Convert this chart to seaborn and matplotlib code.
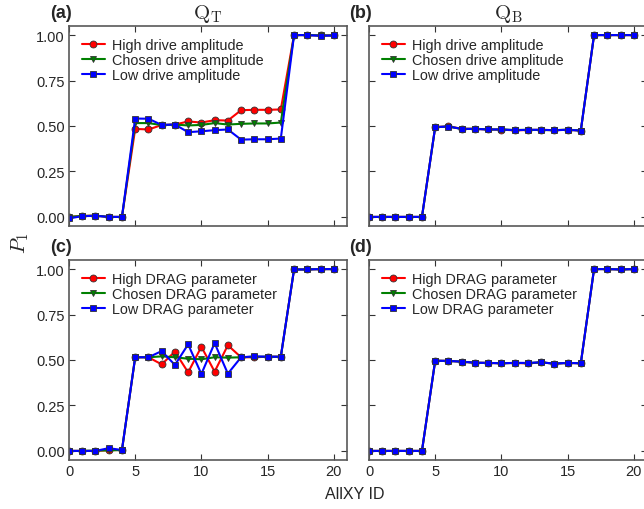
import numpy as np
import seaborn as sns
import matplotlib
matplotlib.use('Agg')
import matplotlib.pyplot as plt

# AllXY sequence index
allxy_id = list(range(21))

# (a) Q_T, drive amplitude sweep
qt_amp_high = [0.00, 0.005, 0.007, 0.00, 0.00, 0.484, 0.481, 0.505, 0.508, 0.525, 0.519,
               0.532, 0.530, 0.587, 0.589, 0.589, 0.591, 1.00, 1.00, 0.998, 0.998]
qt_amp_chosen = [0.00, 0.005, 0.007, 0.00, 0.00, 0.516, 0.516, 0.505, 0.508, 0.503, 0.506,
                 0.516, 0.508, 0.512, 0.514, 0.514, 0.519, 1.00, 1.00, 0.998, 0.998]
qt_amp_low = [-0.008, 0.004, 0.006, 0.00, 0.00, 0.541, 0.540, 0.506, 0.508, 0.466, 0.471,
              0.477, 0.481, 0.425, 0.427, 0.427, 0.431, 1.00, 1.00, 0.996, 0.998]

# (b) Q_B, drive amplitude sweep
qb_amp_high = [0.00, 0.00, 0.00, 0.00, 0.00, 0.494, 0.498, 0.485, 0.484, 0.481, 0.480,
               0.476, 0.478, 0.479, 0.477, 0.479, 0.475, 1.00, 1.00, 1.00, 1.00]
qb_amp_chosen = [0.00, 0.00, 0.00, 0.00, 0.00, 0.494, 0.497, 0.484, 0.485, 0.481, 0.481,
                 0.478, 0.479, 0.478, 0.477, 0.480, 0.475, 1.00, 1.00, 1.00, 1.00]
qb_amp_low = [0.00, 0.00, 0.00, 0.00, 0.00, 0.494, 0.497, 0.484, 0.484, 0.481, 0.481,
              0.477, 0.479, 0.479, 0.477, 0.479, 0.475, 1.00, 1.00, 1.00, 1.00]

# (c) Q_T, DRAG parameter sweep
qt_drag_high = [0.00, 0.00, 0.00, 0.004, 0.005, 0.515, 0.515, 0.476, 0.546, 0.432, 0.573,
                0.436, 0.581, 0.515, 0.515, 0.518, 0.518, 0.998, 0.998, 1.00, 1.00]
qt_drag_chosen = [0.00, 0.00, 0.002, 0.003, 0.005, 0.515, 0.515, 0.520, 0.515, 0.507, 0.504,
                  0.515, 0.513, 0.515, 0.518, 0.518, 0.518, 0.998, 0.998, 1.00, 1.00]
qt_drag_low = [0.00, 0.00, 0.00, 0.015, 0.005, 0.515, 0.515, 0.549, 0.473, 0.586, 0.423,
               0.593, 0.425, 0.515, 0.520, 0.518, 0.518, 0.998, 0.998, 1.00, 1.00]

# (d) Q_B, DRAG parameter sweep
qb_drag_high = [0.00, 0.00, 0.00, 0.00, 0.00, 0.496, 0.495, 0.491, 0.485, 0.484, 0.482,
                0.484, 0.481, 0.487, 0.480, 0.484, 0.482, 1.00, 1.00, 0.998, 1.00]
qb_drag_chosen = [0.00, 0.00, 0.00, 0.00, 0.00, 0.496, 0.495, 0.491, 0.485, 0.484, 0.482,
                  0.484, 0.483, 0.487, 0.480, 0.484, 0.482, 1.00, 1.00, 0.998, 1.00]
qb_drag_low = [0.00, 0.00, 0.00, 0.00, 0.00, 0.496, 0.495, 0.491, 0.485, 0.484, 0.482,
               0.484, 0.484, 0.487, 0.480, 0.484, 0.482, 1.00, 1.00, 0.998, 1.00]

amp_labels = ['High drive amplitude', 'Chosen drive amplitude', 'Low drive amplitude']
drag_labels = ['High DRAG parameter', 'Chosen DRAG parameter', 'Low DRAG parameter']
colors = ['#ff0000', '#008000', '#0000ff']
markers = ['o', 'v', 's']

sns.set_style('ticks', {'xtick.direction': 'in', 'ytick.direction': 'in',
                        'axes.edgecolor': '0.35'})
plt.rcParams['font.family'] = ['Liberation Sans', 'DejaVu Sans']
plt.rcParams['mathtext.fontset'] = 'cm'
plt.rcParams['xtick.top'] = True
plt.rcParams['ytick.right'] = True
plt.rcParams['xtick.labelsize'] = 10.5
plt.rcParams['ytick.labelsize'] = 10.5

fig = plt.figure(figsize=(6.44, 5.10), dpi=100)
W, H = 644, 510
axw, axh = 278, 200
boxes = {'a': (69, 27), 'b': (369, 27), 'c': (69, 261), 'd': (369, 261)}
axes = {}
for k, (l, t) in boxes.items():
    axes[k] = fig.add_axes([l / W, 1 - (t + axh) / H, axw / W, axh / H])

panels = [
    ('a', [qt_amp_high, qt_amp_chosen, qt_amp_low], amp_labels, r'$\mathrm{Q_T}$'),
    ('b', [qb_amp_high, qb_amp_chosen, qb_amp_low], amp_labels, r'$\mathrm{Q_B}$'),
    ('c', [qt_drag_high, qt_drag_chosen, qt_drag_low], drag_labels, None),
    ('d', [qb_drag_high, qb_drag_chosen, qb_drag_low], drag_labels, None),
]

for k, series, labels, title in panels:
    ax = axes[k]
    for vals, lab, c, m in zip(series, labels, colors, markers):
        sns.lineplot(x=allxy_id, y=vals, ax=ax, color=c, marker=m, label=lab,
                     linewidth=1.5, markersize=5, markeredgecolor='0.2',
                     markeredgewidth=0.6)
    ax.set_xlim(0, 21)
    ax.set_ylim(-0.05, 1.05)
    ax.set_xticks([0, 5, 10, 15, 20])
    ax.set_yticks([0, 0.25, 0.5, 0.75, 1.0])
    ax.yaxis.set_major_formatter(matplotlib.ticker.FormatStrFormatter('%.2f'))
    ax.tick_params(length=4, width=0.8, color='0.2', pad=3)
    for s in ax.spines.values():
        s.set_linewidth(1.2)
    if k in 'ab':
        ax.set_xticklabels([])
    if k in 'bd':
        ax.set_yticklabels([])
    ax.set_xlabel('')
    ax.set_ylabel('')
    ax.legend(loc='upper left', frameon=False, fontsize=10.4, handlelength=1.6,
              handletextpad=0.5, labelspacing=0.08, borderaxespad=0.3,
              bbox_to_anchor=(0.01, 0.99))
    if title:
        ax.set_title(title, fontsize=15, pad=6)
    ax.text(-0.03, 1.07, '(%s)' % k, transform=ax.transAxes, ha='center',
            va='center', fontsize=13, fontweight='bold')

fig.text(20 / W, 1 - 243 / H, r'$P_1$', rotation=90, ha='center', va='center',
         fontsize=15)
fig.text(355 / W, 1 - 495 / H, 'AllXY ID', ha='center', va='center', fontsize=11.5)

fig.savefig('out.png', dpi=100)
